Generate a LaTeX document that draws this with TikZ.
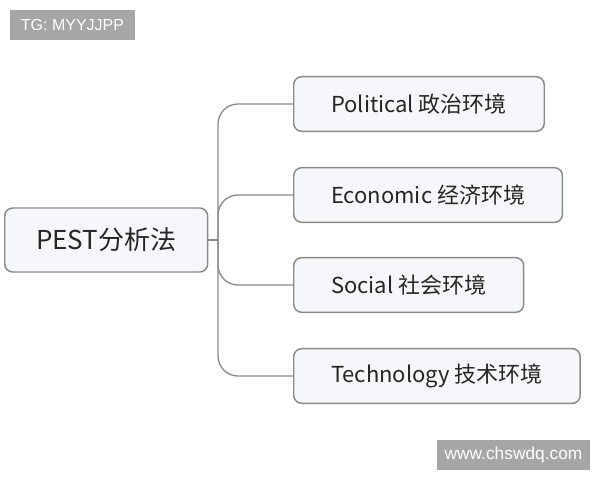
\documentclass[tikz,border=0pt]{standalone}
\usepackage{fontspec}
\newfontfamily\cjk{Noto Sans CJK SC}
\newfontfamily\wmfont{Liberation Sans}
\usetikzlibrary{positioning}
\definecolor{boxline}{HTML}{8A8A8A}
\definecolor{boxfill}{HTML}{F5F7FA}
\definecolor{wmgray}{HTML}{A6A6A6}
\tikzset{
  topic/.style={draw=boxline,line width=1.1pt,rounded corners=6pt,fill=boxfill,text=black!85,
    font=\cjk\fontsize{16.5}{20}\selectfont,minimum height=41pt,inner xsep=28pt},
  root/.style={topic,font=\cjk\fontsize{19.5}{24}\selectfont,minimum height=48pt,inner xsep=23.5pt},
  branch/.style={draw=boxline,line width=1pt,rounded corners=15pt},
  watermark/.style={fill=wmgray,text=white,inner sep=0pt,minimum height=22.5pt}
}
\begin{document}
\begin{tikzpicture}[x=0.75pt,y=-0.75pt]
  \useasboundingbox (0,0) rectangle (600,480);
  \node[root,anchor=west](pest) at (4,240){PEST分析法};
  \node[topic,anchor=west](pol) at (293,104){Political 政治环境};
  \node[topic,anchor=west](eco) at (293,195){Economic 经济环境};
  \node[topic,anchor=west](soc) at (293,285){Social 社会环境};
  \node[topic,anchor=west](tec) at (293,376){Technology 技术环境};
  \coordinate (trunk) at (218,240);
  \draw[branch] (pest.east) -- (trunk);
  \draw[branch] (trunk) |- (pol.west);
  \draw[branch] (trunk) |- (eco.west);
  \draw[branch] (trunk) |- (soc.west);
  \draw[branch] (trunk) |- (tec.west);
  % watermarks
  \node[watermark,minimum width=93.75pt,font=\wmfont\fontsize{12}{14}\selectfont](tg) at (72.5,25){TG: MYYJJPP};
  \node[watermark,minimum width=114.75pt,font=\wmfont\fontsize{13}{16}\selectfont](web) at (513.5,455){www.chswdq.com};
\end{tikzpicture}
\end{document}
